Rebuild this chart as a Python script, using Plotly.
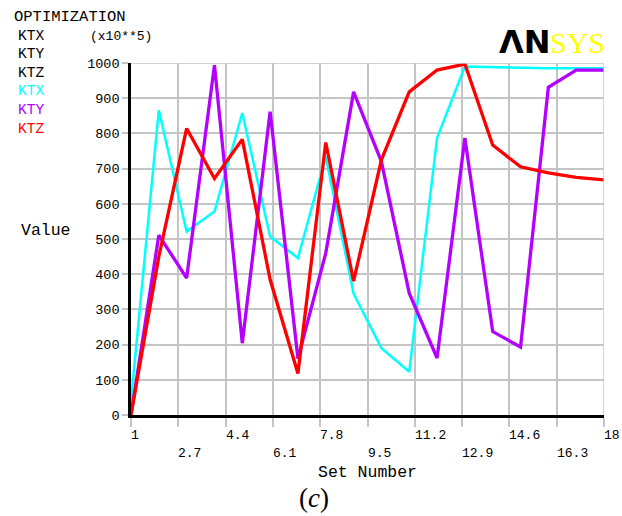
import plotly.graph_objects as go

# Optimization history: design variables per set
set_number = list(range(1, 19))
ktx = [40, 866, 521, 578, 858, 507, 446, 734, 345, 190, 123, 787, 990, 988, 986, 985, 985, 985]
kty = [0, 511, 389, 994, 204, 862, 160, 460, 918, 720, 346, 162, 787, 237, 193, 931, 980, 980]
ktz = [0, 450, 814, 672, 783, 385, 118, 774, 380, 725, 918, 980, 997, 767, 705, 688, 675, 668]

x_ticks = [1, 2.7, 4.4, 6.1, 7.8, 9.5, 11.2, 12.9, 14.6, 16.3, 18]
x_tick_text = ["1", "2.7", "4.4", "6.1", "7.8", "9.5", "11.2", "12.9", "14.6", "16.3", "18"]
y_ticks = list(range(0, 1001, 100))

series = [("KTX", ktx, "#00FFFF", 2.5), ("KTY", kty, "#B400FF", 3.3), ("KTZ", ktz, "#FF0000", 3.3)]

MONO = "Liberation Mono"
GRID = "#C4C4C4"

fig = go.Figure()
for name, vals, color, w in series:
    fig.add_trace(go.Scatter(x=set_number, y=vals, mode="lines", name=name,
                             line=dict(color=color, width=w), showlegend=False))

fig.update_layout(
    width=622, height=516,
    margin=dict(l=131, r=18, t=63, b=101),
    paper_bgcolor="white", plot_bgcolor="white",
    font=dict(family=MONO, color="black"),
)
fig.update_xaxes(
    range=[1, 18], tickvals=x_ticks, showticklabels=False,
    showgrid=True, gridcolor=GRID, gridwidth=1.5,
    showline=True, linecolor="black", linewidth=3,
    ticks="outside", ticklen=9, tickcolor=GRID, tickwidth=1.5,
    zeroline=False,
)
fig.update_yaxes(
    range=[0, 1000], tickvals=y_ticks,
    tickfont=dict(family=MONO, size=13.5, color="black"),
    showgrid=True, gridcolor=GRID, gridwidth=1.5,
    showline=True, linecolor="black", linewidth=2.5,
    ticks="outside", ticklen=6, tickcolor=GRID, tickwidth=1.5,
    zeroline=False,
)

# Right and top plot borders
fig.add_shape(type="line", xref="x", yref="paper", x0=18, x1=18, y0=0, y1=1,
              line=dict(color=GRID, width=1.5))
fig.add_shape(type="line", xref="paper", yref="y", x0=0, x1=1, y0=1000, y1=1000,
              line=dict(color=GRID, width=1.5))

ann = []
# Staggered x tick labels, anchored at their tick
for i, (v, t) in enumerate(zip(x_ticks, x_tick_text)):
    ann.append(dict(x=v, xref="x", y=0, yref="paper", yshift=-20 if i % 2 == 0 else -38,
                    text=t, showarrow=False, xanchor="left", yanchor="middle",
                    font=dict(family=MONO, size=13, color="black"), xshift=-2))

W, H = 622, 516
def px(x):
    return (x - 131) / (W - 131 - 18)
def py(y):
    return (H - 101 - y) / (H - 63 - 101)

def label(text, x, y, size, color="black", anchor="left", family=MONO):
    ann.append(dict(x=px(x), y=py(y), xref="paper", yref="paper", text=text, showarrow=False,
                    xanchor=anchor, yanchor="middle",
                    font=dict(family=family, size=size, color=color)))

label("OPTIMIZATION", 12, 17, 15.5)
label("(x10**5)", 88, 36, 13)
for i, (name, _, color, _) in enumerate(series):
    label(name, 16, 36 + 18.5 * i, 14.5)
    label(name, 16, 91.5 + 18.5 * i, 14.5, color=color)
label("Value", 19, 230, 16.5)
label("Set Number", 367, 472, 16.5, anchor="center")
label("(<i>c</i>)", 314, 498, 27, family="Liberation Serif", anchor="center")

# Logo
label("<b>ΛN</b>", 497, 42, 32, family="DejaVu Sans")
label("SYS", 548, 42, 30, color="#FFFF00", family="Liberation Serif")

fig.update_layout(annotations=ann)
fig.write_html("out.html")
